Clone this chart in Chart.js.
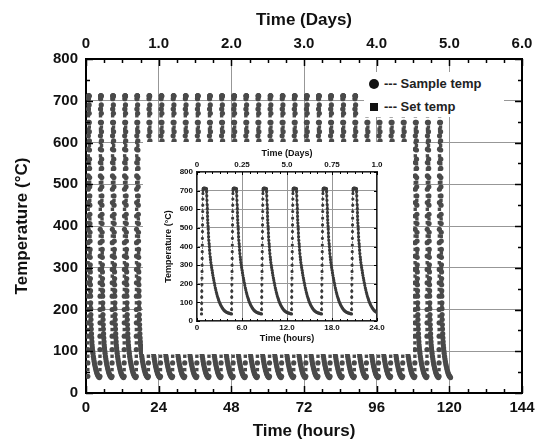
<!DOCTYPE html>
<html>
<head>
<meta charset="utf-8">
<script src="https://cdn.jsdelivr.net/npm/chart.js@4/dist/chart.umd.min.js"></script>
<style>
  body { margin: 0; background: #fff; }
  #wrap { position: relative; width: 543px; height: 445px; }
  #inset { position: absolute; left: 143px; top: 142px; width: 270px; height: 212px; background: #fff; }
  #legend { position: absolute; left: 364px; top: 72px; width: 140px; height: 45px; background: #fff;
            font: bold 13px 'Liberation Sans', Arial, sans-serif; color: #222; }
  #legend .row { position: absolute; left: 0; height: 16px; line-height: 16px; }
  #legend .mk { position: absolute; background: #111; }
  #legend .txt { position: absolute; left: 20px; top: 0; white-space: nowrap; }
</style>
</head>
<body>
<div id="wrap">
  <canvas id="mainChart" width="543" height="445"></canvas>
  <div id="legend">
    <div class="row" style="top:4px"><span class="mk" style="left:5px;top:3px;width:10px;height:10px;border-radius:50%"></span><span class="txt">--- Sample temp</span></div>
    <div class="row" style="top:27px"><span class="mk" style="left:6px;top:4px;width:8px;height:8px"></span><span class="txt">--- Set temp</span></div>
  </div>
  <div id="inset"><canvas id="insetChart" width="270" height="212"></canvas></div>
</div>
<script>
// main plot: one cycle, hours from the start of the ramp
const mainHours = [0.00, 0.01, 0.02, 0.03, 0.04, 0.05, 0.06, 0.07, 0.08, 0.09, 0.10, 0.11, 0.12,
  0.13, 0.14, 0.15, 0.16, 0.17, 0.18, 0.19, 0.20,
  0.22, 0.26, 0.30, 0.34, 0.38, 0.42,
  0.44, 0.46, 0.48, 0.50, 0.52, 0.54, 0.56, 0.58, 0.60, 0.62, 0.64, 0.66, 0.68, 0.70, 0.72,
  0.74, 0.76, 0.78, 0.80, 0.82, 0.84, 0.86, 0.88, 0.90, 0.93, 0.96, 1.00, 1.04, 1.09, 1.14,
  1.20, 1.27, 1.34, 1.42, 1.50, 1.60, 1.70, 1.82, 1.95, 2.08, 2.22, 2.36, 2.52, 2.68, 2.85,
  3.02, 3.20, 3.40, 3.60, 3.80];
const mainSample = [40, 72, 104, 136, 168, 200, 232, 264, 296, 328, 360, 392, 424,
  456, 488, 520, 552, 584, 616, 648, 680,
  705, 712, 712, 712, 712, 711,
  690, 670, 648, 626, 604, 582, 560, 538, 516, 494, 472, 450, 428, 406, 385,
  364, 344, 325, 307, 290, 274, 259, 245, 232, 216, 202, 188, 176, 164, 153,
  142, 132, 123, 115, 108, 101, 95, 88, 82, 76, 70, 65, 60, 55, 51,
  47, 44, 41, 39, 37];
const mainSetHours = [0.005, 0.015, 0.025, 0.035, 0.045, 0.055, 0.065, 0.075, 0.085, 0.095,
  0.105, 0.115, 0.125, 0.135, 0.145, 0.155, 0.165, 0.175, 0.185, 0.195,
  0.24, 0.32, 0.40,
  0.45, 0.49, 0.53, 0.57, 0.61, 0.65, 0.69, 0.73, 0.77, 0.81, 0.85, 0.89, 0.95, 1.02, 1.11,
  1.22, 1.36, 1.55, 1.78, 2.05, 2.35, 2.70, 3.10, 3.50];
const mainSet = [56, 88, 120, 152, 184, 216, 248, 280, 312, 344,
  376, 408, 440, 472, 504, 536, 568, 600, 632, 664,
  710, 711, 711,
  680, 637, 593, 549, 505, 461, 417, 375, 335, 298, 266, 238, 209, 182, 158,
  137, 119, 102, 88, 75, 64, 54, 46, 40];

// inset: one cycle, hours from the start of the ramp
const insetHours = [0.00, 0.01, 0.02, 0.03, 0.04, 0.05, 0.06, 0.07, 0.08, 0.09, 0.10, 0.11, 0.12,
  0.13, 0.14, 0.15, 0.16, 0.17, 0.18, 0.19, 0.20, 0.22,
  0.26, 0.30, 0.34, 0.38, 0.42, 0.46, 0.50, 0.54, 0.58, 0.62, 0.66,
  0.69, 0.71, 0.73, 0.75, 0.77, 0.79, 0.81, 0.83, 0.85, 0.87, 0.89, 0.92, 0.95, 0.98, 1.01,
  1.04, 1.08, 1.12, 1.16, 1.20, 1.25, 1.30, 1.35, 1.40, 1.46, 1.52, 1.58, 1.64, 1.70, 1.77,
  1.84, 1.91, 1.98, 2.05, 2.12, 2.20, 2.28, 2.36, 2.44, 2.52, 2.61, 2.70, 2.80, 2.90, 3.00,
  3.10, 3.20, 3.30, 3.40, 3.50, 3.60, 3.70, 3.80, 3.90];
const insetTemp = [38, 62, 95, 128, 160, 196, 230, 266, 300, 336, 372, 408, 444,
  480, 516, 552, 588, 622, 655, 684, 702, 710,
  712, 712, 713, 712, 712, 712, 711, 712, 712, 711, 710,
  695, 672, 648, 625, 603, 582, 562, 543, 526, 510, 494, 472, 452, 433, 416,
  400, 380, 362, 345, 330, 314, 300, 287, 274, 259, 245, 232, 219, 206, 192,
  178, 166, 154, 143, 133, 123, 113, 104, 96, 89, 82, 75, 69, 63, 58,
  54, 51, 48, 46, 44, 43, 42, 40, 39];

// ramp start of every cycle (hours)
const mainCycleStarts = [0.6, 4.6, 8.6, 12.6, 16.6, 20.6, 24.6, 28.6, 32.6, 36.6, 40.6, 44.6,
  48.6, 52.6, 56.6, 60.6, 64.6, 68.6, 72.6, 76.6, 80.6, 84.6, 88.6, 92.6, 96.6, 100.6, 104.6,
  108.6, 112.6, 116.6];
const insetCycleStarts = [0.6, 4.6, 8.6, 12.6, 16.6, 20.6];

// tick labels
const hourLabels = ['0', '24', '48', '72', '96', '120', '144'];
const dayLabels = ['0', '1.0', '2.0', '3.0', '4.0', '5.0', '6.0'];
const tempLabels = ['0', '100', '200', '300', '400', '500', '600', '700', '800'];
const insetHourLabels = ['0', '6.0', '12.0', '18.0', '24.0'];
const insetDayLabels = ['0', '0.25', '5.0', '0.75', '1.0'];

Chart.defaults.font.family = "'Liberation Sans', Arial, sans-serif";
Chart.defaults.font.weight = 'bold';
Chart.defaults.color = '#111';

function buildSeries(starts, hours, temps) {
  const pts = [];
  starts.forEach(s => hours.forEach((h, i) => pts.push({ x: s + h, y: temps[i] })));
  return pts;
}

// inward tick marks on all four sides
const inwardTicks = {
  id: 'inwardTicks',
  afterDatasetsDraw(chart, args, o) {
    const { ctx, chartArea: a, scales } = chart;
    const x = scales.x, y = scales.y;
    ctx.save();
    ctx.strokeStyle = '#000';
    ctx.lineWidth = o.width;
    const line = (x0, y0, x1, y1) => { ctx.beginPath(); ctx.moveTo(x0, y0); ctx.lineTo(x1, y1); ctx.stroke(); };
    const isMajor = (v, step) => Math.abs(v / step - Math.round(v / step)) < 1e-6;
    for (let v = x.min; v <= x.max + 1e-6; v += o.xMinor) {
      const len = isMajor(v, o.xMajor) ? o.majorLen : o.minorLen;
      const p = Math.round(x.getPixelForValue(v)) + 0.5;
      line(p, a.bottom, p, a.bottom - len);
      line(p, a.top, p, a.top + len);
    }
    for (let v = y.min; v <= y.max + 1e-6; v += o.yMinor) {
      const len = isMajor(v, o.yMajor) ? o.majorLen : o.minorLen;
      const p = Math.round(y.getPixelForValue(v)) + 0.5;
      line(a.left, p, a.left + len, p);
      line(a.right, p, a.right - len, p);
    }
    ctx.restore();
  }
};

const gridGray = '#979797';
const dotColor = '#4a4a4a';

new Chart(document.getElementById('mainChart'), {
  type: 'scatter',
  data: {
    datasets: [{
      label: 'Sample temp',
      data: buildSeries(mainCycleStarts, mainHours, mainSample),
      pointStyle: 'circle',
      pointRadius: 2.6,
      backgroundColor: dotColor,
      borderWidth: 0
    }, {
      label: 'Set temp',
      data: buildSeries(mainCycleStarts, mainSetHours, mainSet),
      pointStyle: 'rect',
      pointRadius: 2.4,
      backgroundColor: dotColor,
      borderWidth: 0
    }]
  },
  options: {
    responsive: false,
    animation: false,
    layout: { padding: 0, autoPadding: false },
    plugins: {
      legend: { display: false },
      tooltip: { enabled: false },
      inwardTicks: { xMajor: 24, xMinor: 6, yMajor: 100, yMinor: 50, majorLen: 7, minorLen: 4, width: 1.5 }
    },
    scales: {
      x: {
        type: 'linear', position: 'bottom', min: 0, max: 144,
        grid: { color: gridGray, lineWidth: 1, drawTicks: false },
        border: { display: true, color: '#000', width: 2 },
        ticks: { stepSize: 24, padding: 6, maxRotation: 0, font: { size: 15 }, callback: (v, i) => hourLabels[i] },
        title: { display: true, text: 'Time (hours)', font: { size: 17 }, padding: { top: 0, bottom: 3 } },
        afterFit: s => { s.height = 52; }
      },
      x2: {
        type: 'linear', position: 'top', min: 0, max: 144,
        grid: { display: false, drawTicks: false },
        border: { display: true, color: '#000', width: 2 },
        ticks: { stepSize: 24, padding: 6, maxRotation: 0, font: { size: 15 }, callback: (v, i) => dayLabels[i] },
        title: { display: true, text: 'Time (Days)', font: { size: 17 }, padding: { top: 10, bottom: 0 } },
        afterFit: s => { s.height = 59; }
      },
      y: {
        type: 'linear', position: 'left', min: 0, max: 800,
        grid: { color: gridGray, lineWidth: 1, drawTicks: false },
        border: { display: true, color: '#000', width: 2 },
        ticks: { stepSize: 100, padding: 8, font: { size: 15 }, callback: (v, i) => tempLabels[i] },
        title: { display: true, text: 'Temperature (°C)', font: { size: 17 }, padding: { top: 12, bottom: 0 } },
        afterFit: s => { s.width = 86; }
      },
      y2: {
        type: 'linear', position: 'right', min: 0, max: 800,
        grid: { display: false, drawTicks: false },
        border: { display: true, color: '#000', width: 2 },
        ticks: { display: false },
        afterFit: s => { s.width = 21; }
      }
    }
  },
  plugins: [inwardTicks]
});

new Chart(document.getElementById('insetChart'), {
  type: 'scatter',
  data: {
    datasets: [{
      label: 'Sample temp',
      data: buildSeries(insetCycleStarts, insetHours, insetTemp),
      showLine: true,
      borderColor: '#3a3a3a',
      borderWidth: 1.6,
      pointRadius: 0.8,
      backgroundColor: '#3a3a3a',
      segment: {
        borderDash: c => (c.p1.parsed.y - c.p0.parsed.y > 20 ? [1.2, 1.8] : undefined),
        borderWidth: c => (c.p1.parsed.y - c.p0.parsed.y > 20 ? 1 : undefined)
      }
    }]
  },
  options: {
    responsive: false,
    animation: false,
    layout: { padding: 0, autoPadding: false },
    plugins: {
      legend: { display: false },
      tooltip: { enabled: false },
      inwardTicks: { xMajor: 6, xMinor: 1, yMajor: 100, yMinor: 100, majorLen: 3, minorLen: 2, width: 1 }
    },
    scales: {
      x: {
        type: 'linear', position: 'bottom', min: 0, max: 24,
        grid: { color: gridGray, lineWidth: 1, drawTicks: false },
        border: { display: true, color: '#222', width: 1.3 },
        ticks: { stepSize: 6, padding: 2, maxRotation: 0, font: { size: 8 }, callback: (v, i) => insetHourLabels[i] },
        title: { display: true, text: 'Time (hours)', font: { size: 9 }, padding: { top: 0, bottom: 10 } },
        afterFit: s => { s.height = 33; }
      },
      x2: {
        type: 'linear', position: 'top', min: 0, max: 24,
        grid: { display: false, drawTicks: false },
        border: { display: true, color: '#222', width: 1.3 },
        ticks: { stepSize: 6, padding: 2, maxRotation: 0, font: { size: 8 }, callback: (v, i) => insetDayLabels[i] },
        title: { display: true, text: 'Time (Days)', font: { size: 9 }, padding: { top: 6, bottom: 0 } },
        afterFit: s => { s.height = 30; }
      },
      y: {
        type: 'linear', position: 'left', min: 0, max: 800,
        grid: { color: gridGray, lineWidth: 1, drawTicks: false },
        border: { display: true, color: '#222', width: 1.3 },
        ticks: { stepSize: 100, padding: 4, font: { size: 8 }, callback: (v, i) => tempLabels[i] },
        title: { display: true, text: 'Temperature (°C)', font: { size: 9 }, padding: { top: 20, bottom: 0 } },
        afterFit: s => { s.width = 54; }
      },
      y2: {
        type: 'linear', position: 'right', min: 0, max: 800,
        grid: { display: false, drawTicks: false },
        border: { display: true, color: '#222', width: 1.3 },
        ticks: { display: false },
        afterFit: s => { s.width = 36; }
      }
    }
  },
  plugins: [inwardTicks]
});
</script>
</body>
</html>
